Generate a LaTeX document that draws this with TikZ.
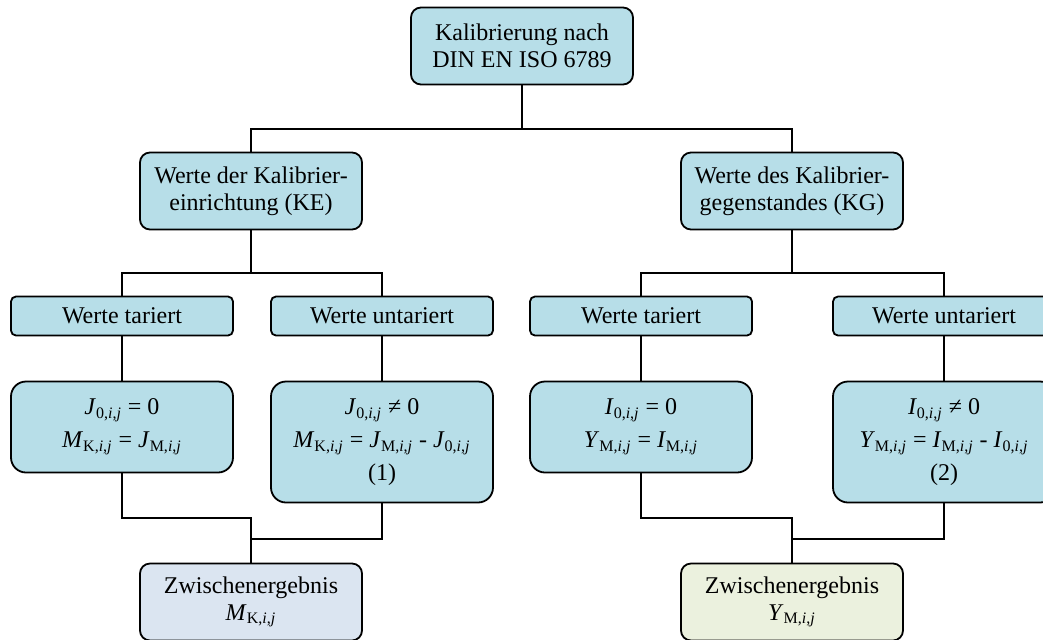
\documentclass[tikz,border=0pt]{standalone}
\usepackage{fontspec}
\setmainfont{Liberation Serif}
\usepackage{tikz}
\usetikzlibrary{positioning}
\definecolor{boxteal}{HTML}{B7DEE8}
\definecolor{boxblue}{HTML}{DBE5F1}
\definecolor{boxgreen}{HTML}{EBF1DE}
\newcommand{\fvar}[2]{\textit{#1}\textsubscript{#2}}

\begin{document}
\begin{tikzpicture}
    [
    x=0.5pt, y=-0.5pt,
    bigbox/.style={draw,line width=0.9pt,fill=boxteal,rounded corners=5pt,align=center,inner sep=0pt,minimum width=111pt,minimum height=38.5pt,font=\fontsize{12}{13.5}\selectfont},
    smallbox/.style={bigbox,rounded corners=2.5pt,minimum height=19.5pt},
    formbox/.style={bigbox,rounded corners=7.5pt,font=\fontsize{12}{16.5}\selectfont},
    link/.style={line width=1.2pt},
    ]
    \useasboundingbox (0,0) rectangle (1043,639);

    \node (top) at (522,46) [bigbox] {Kalibrierung nach\\DIN EN ISO 6789};
    \node (ke) at (251,191) [bigbox] {Werte der Kalibrier-\\einrichtung (KE)};
    \node (kg) at (792,191) [bigbox] {Werte des Kalibrier-\\gegenstandes (KG)};

    \node (tl) at (122,316) [smallbox] {Werte tariert};
    \node (ul) at (382,316) [smallbox] {Werte untariert};
    \node (tr) at (641,316) [smallbox] {Werte tariert};
    \node (ur) at (944,316) [smallbox] {Werte untariert};

    \node (fl) at (122,427) [formbox,minimum height=45.5pt] {\fvar{J}{0,\textit{i},\textit{j}} = 0\\\fvar{M}{K,\textit{i},\textit{j}} = \fvar{J}{M,\textit{i},\textit{j}}};
    \node (ful) at (382,442) [formbox,minimum height=60.5pt] {\fvar{J}{0,\textit{i},\textit{j}} ≠ 0\\\fvar{M}{K,\textit{i},\textit{j}} = \fvar{J}{M,\textit{i},\textit{j}} - \fvar{J}{0,\textit{i},\textit{j}}\\(1)};
    \node (fr) at (641,427) [formbox,minimum height=45.5pt] {\fvar{I}{0,\textit{i},\textit{j}} = 0\\\fvar{Y}{M,\textit{i},\textit{j}} = \fvar{I}{M,\textit{i},\textit{j}}};
    \node (fur) at (944,442) [formbox,minimum height=60.5pt] {\fvar{I}{0,\textit{i},\textit{j}} ≠ 0\\\fvar{Y}{M,\textit{i},\textit{j}} = \fvar{I}{M,\textit{i},\textit{j}} - \fvar{I}{0,\textit{i},\textit{j}}\\(2)};

    \node (zl) at (251,602) [bigbox,fill=boxblue] {Zwischenergebnis\\\fvar{M}{K,\textit{i},\textit{j}}};
    \node (zr) at (792,602) [bigbox,fill=boxgreen] {Zwischenergebnis\\\fvar{Y}{M,\textit{i},\textit{j}}};

    \coordinate (b1) at (522,129);
    \coordinate (b2) at (251,273);
    \coordinate (b3) at (792,273);
    \coordinate (c1) at (251,518);
    \coordinate (c2) at (251,539);
    \coordinate (c3) at (792,518);
    \coordinate (c4) at (792,539);

    \draw [link] (top) to (b1);
    \draw [link] (ke.north) |- (b1) -| (kg.north);
    \draw [link] (ke) to (b2);
    \draw [link] (tl.north) |- (b2) -| (ul.north);
    \draw [link] (kg) to (b3);
    \draw [link] (tr.north) |- (b3) -| (ur.north);

    \draw [link] (tl) to (fl);
    \draw [link] (ul) to (ful);
    \draw [link] (tr) to (fr);
    \draw [link] (ur) to (fur);

    \draw [link] (fl.south) |- (c1) -- (zl.north);
    \draw [link] (ful.south) |- (c2);
    \draw [link] (fr.south) |- (c3) -- (zr.north);
    \draw [link] (fur.south) |- (c4);
  \end{tikzpicture}
\end{document}
